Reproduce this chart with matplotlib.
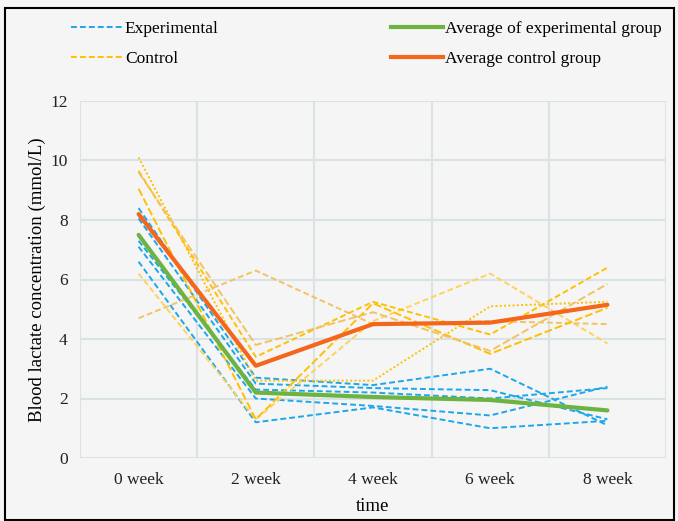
import matplotlib
matplotlib.use("Agg")
import matplotlib.pyplot as plt
from matplotlib.lines import Line2D
from matplotlib.patches import Rectangle

weeks = ["0 week", "2 week", "4 week", "6 week", "8 week"]

# individual subjects, experimental group (mmol/L)
exp_1 = [8.4, 2.7, 2.45, 3.0, 1.1]
exp_2 = [8.05, 2.5, 2.35, 2.28, 1.3]
exp_3 = [7.3, 2.3, 2.2, 2.0, 2.35]
exp_4 = [7.1, 2.0, 1.75, 1.43, 2.4]
exp_5 = [6.6, 1.2, 1.7, 1.0, 1.25]

# individual subjects, control group (mmol/L)
ctl_1 = [10.1, 2.6, 2.6, 5.1, 5.25]
ctl_2 = [6.2, 1.3, 4.6, 6.2, 3.85]
ctl_3 = [4.7, 6.3, 4.5, 4.6, 4.5]
ctl_4 = [9.65, 3.4, 5.25, 4.15, 6.4]
ctl_5 = [9.05, 1.3, 5.2, 3.5, 5.05]
ctl_6 = [9.6, 3.8, 4.9, 3.6, 5.85]

avg_exp = [7.5, 2.2, 2.05, 1.95, 1.6]
avg_ctl = [8.2, 3.1, 4.5, 4.55, 5.15]

yticks = [0, 2, 4, 6, 8, 10, 12]

plt.rcParams["font.family"] = ["Liberation Serif", "DejaVu Serif"]

BG = "#f5f5f5"
GRID = "#d9e2e5"
BLUE = "#1aa7ec"
GOLD = "#ffc000"
LIGHT_GOLD = "#ffd25a"
TAN = "#f2c265"
GREEN = "#6db33f"
ORANGE = "#f4661b"

fig = plt.figure(figsize=(6.78, 5.21), dpi=100, facecolor=BG)
ax = fig.add_axes([80 / 678, 1 - 458 / 521, 586 / 678, 357 / 521], facecolor=BG)

x = list(range(len(weeks)))

dash = (0, (3.0, 1.6))
dot = (0, (1.0, 1.2))

for s in [exp_1, exp_2, exp_3, exp_4, exp_5]:
    ax.plot(x, s, color=BLUE, lw=1.4, linestyle=dash, zorder=3)

ctl_styles = [
    (ctl_1, GOLD, dot),
    (ctl_2, LIGHT_GOLD, dash),
    (ctl_3, TAN, dash),
    (ctl_4, GOLD, dash),
    (ctl_5, GOLD, (0, (4.0, 1.6))),
    (ctl_6, TAN, (0, (4.0, 1.6))),
]
for s, c, ls in ctl_styles:
    ax.plot(x, s, color=c, lw=1.4, linestyle=ls, zorder=3)

ax.plot(x, avg_exp, color=GREEN, lw=3.0, zorder=4, solid_capstyle="round")
ax.plot(x, avg_ctl, color=ORANGE, lw=3.0, zorder=5, solid_capstyle="round")

ax.set_xlim(-0.5, len(weeks) - 0.5)
ax.set_ylim(0, 12)
ax.set_yticks(yticks)
ax.set_xticks(x)
ax.set_xticklabels(weeks)

# category boundaries as vertical grid lines
for b in [i - 0.5 for i in range(len(weeks) + 1)]:
    ax.axvline(b, color=GRID, lw=1.5, zorder=1)
for t in yticks:
    ax.axhline(t, color=GRID, lw=1.5, zorder=1)

for sp in ax.spines.values():
    sp.set_visible(False)
ax.tick_params(axis="both", length=0, labelsize=12.5, colors="#222222")
ax.tick_params(axis="y", pad=9)
ax.tick_params(axis="x", pad=10)

ax.set_xlabel("time", fontsize=13.5, labelpad=7)
ax.set_ylabel("Blood lactate concentration (mmol/L)", fontsize=13.5, labelpad=3)

leg_kw = dict(frameon=False, fontsize=12.5, handlelength=3.0, handletextpad=0.1,
              labelspacing=0.8, borderaxespad=0)
h1 = [Line2D([], [], color=BLUE, lw=1.4, linestyle=dash),
      Line2D([], [], color=GOLD, lw=1.4, linestyle=dash)]
fig.legend(h1, ["Experimental", "Control"], loc="upper left",
           bbox_to_anchor=(64 / 678, 1 - 14 / 521), **leg_kw)
h2 = [Line2D([], [], color=GREEN, lw=3.0),
      Line2D([], [], color=ORANGE, lw=3.0)]
fig.legend(h2, ["Average of experimental group", "Average control group"],
           loc="upper left", bbox_to_anchor=(384 / 678, 1 - 14 / 521), **leg_kw)

# outer frame
fig.patches.append(Rectangle((5 / 678, 0.002), 669 / 678, 1 - 8 / 521 - 0.002,
                             transform=fig.transFigure, fill=False,
                             edgecolor="black", lw=1.5))

fig.savefig("out.png", dpi=100, facecolor=BG)
